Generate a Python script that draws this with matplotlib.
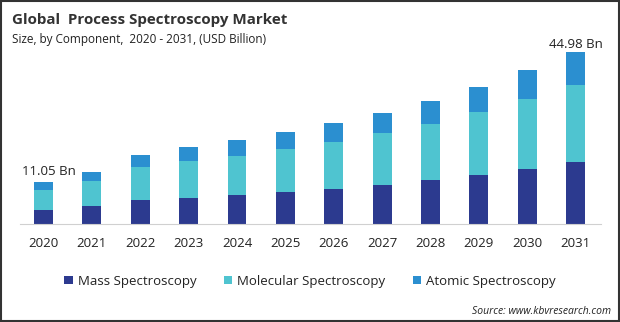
import matplotlib.pyplot as plt
from matplotlib.patches import Rectangle
import numpy as np

# market size by component, USD billion
years = ["2020", "2021", "2022", "2023", "2024", "2025",
         "2026", "2027", "2028", "2029", "2030", "2031"]
mass = [3.66, 4.70, 6.28, 6.80, 7.58, 8.37, 9.15, 10.20, 11.50, 12.80, 14.40, 16.20]
molecular = [5.25, 6.60, 8.63, 9.68, 10.20, 11.24, 12.30, 13.60, 14.60, 16.50, 18.30, 20.13]
atomic = [2.14, 2.27, 3.14, 3.66, 4.18, 4.45, 4.97, 5.23, 6.00, 6.50, 7.60, 8.65]

first_label = "11.05 Bn"
last_label = "44.98 Bn"

dark = "#2c3a8f"
cyan = "#4fc4d0"
blue = "#2b8fd0"

plt.rcParams['font.family'] = ['Open Sans', 'DejaVu Sans']

fig = plt.figure(figsize=(6.2, 3.22), dpi=100)
ax = fig.add_axes([0.032, 0.304, 0.937, 0.571])

x = np.arange(len(years))
w = 0.39
m = np.array(mass)
mo = np.array(molecular)
a = np.array(atomic)
ax.bar(x, m, w, color=dark, label="Mass Spectroscopy")
ax.bar(x, mo, w, bottom=m, color=cyan, label="Molecular Spectroscopy")
ax.bar(x, a, w, bottom=m + mo, color=blue, label="Atomic Spectroscopy")

tot = m + mo + a
ax.text(x[0] + 0.12, tot[0] + 1.0, first_label, ha='center', va='bottom',
        fontsize=9.5, color="#222222")
ax.text(x[-1], tot[-1] + 0.1, last_label, ha='center', va='bottom',
        fontsize=9.5, color="#222222")

ax.set_xlim(-0.49, 11.52)
ax.set_ylim(0, 48)
ax.set_xticks(x)
ax.set_xticklabels(years, fontsize=9.5, color="#222222")
ax.set_yticks([])
for s in ["top", "right", "left"]:
    ax.spines[s].set_visible(False)
ax.spines["bottom"].set_color("#d0d0d0")
ax.tick_params(axis='x', length=0, pad=9)

fig.legend(loc='center', bbox_to_anchor=(0.5, 0.127), ncol=3, frameon=False,
           fontsize=9.5, handlelength=0.65, handleheight=0.65, handletextpad=0.35,
           columnspacing=2.1, labelcolor="#222222")

fig.text(0.019, 0.937, "Global  Process Spectroscopy Market", fontsize=10.9,
         fontweight='bold', color="#333333", va='center')
fig.text(0.019, 0.876, "Size, by Component,  2020 - 2031, (USD Billion)",
         fontsize=8.5, color="#222222", va='center')
fig.text(0.985, 0.034, "Source: www.kbvresearch.com", fontsize=7.5,
         style='italic', color="#222222", ha='right', va='center')

# thin frame round the whole figure
fig.patches.append(Rectangle((0.001, 0.002), 0.997, 0.995, transform=fig.transFigure,
                             fill=False, edgecolor="#333333", linewidth=1.5))

fig.savefig("out.png", dpi=100)
